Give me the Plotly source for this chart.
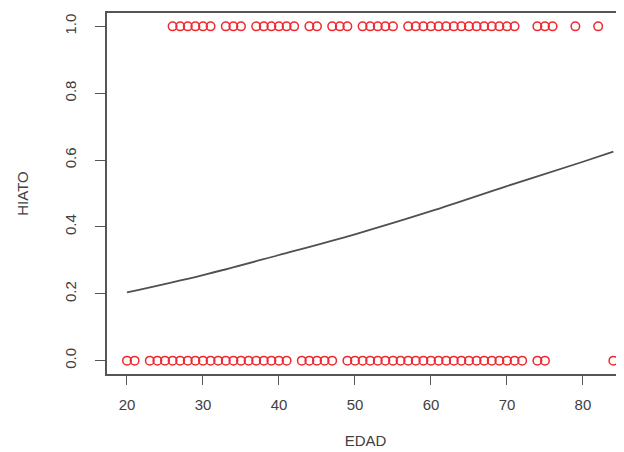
import plotly.graph_objects as go

# Ages of observations with HIATO = 1 and HIATO = 0
edad_hiato1 = [26, 27, 28, 29, 30, 31, 33, 34, 35, 37, 38, 39, 40, 41, 42, 44, 45,
               47, 48, 49, 51, 52, 53, 54, 55, 57, 58, 59, 60, 61, 62, 63, 64, 65,
               66, 67, 68, 69, 70, 71, 74, 75, 76, 79, 82]
edad_hiato0 = [20, 21, 23, 24, 25, 26, 27, 28, 29, 30, 31, 32, 33, 34, 35, 36, 37,
               38, 39, 40, 41, 43, 44, 45, 46, 47, 49, 50, 51, 52, 53, 54, 55, 56,
               57, 58, 59, 60, 61, 62, 63, 64, 65, 66, 67, 68, 69, 70, 71, 72, 74,
               75, 84]

# Fitted probability curve
curve_edad = [20, 30, 40, 50, 60, 70, 80, 84]
curve_prob = [0.204, 0.256, 0.316, 0.378, 0.447, 0.522, 0.595, 0.625]

x_ticks = [20, 30, 40, 50, 60, 70, 80]
y_ticks = [0.0, 0.2, 0.4, 0.6, 0.8, 1.0]

fig = go.Figure()
marker = dict(symbol="circle-open", size=8.5, color="#f0282d", line=dict(width=1.5))
fig.add_trace(go.Scatter(x=edad_hiato1, y=[1] * len(edad_hiato1), mode="markers",
                         marker=marker, showlegend=False, cliponaxis=False))
fig.add_trace(go.Scatter(x=edad_hiato0, y=[0] * len(edad_hiato0), mode="markers",
                         marker=marker, showlegend=False, cliponaxis=False))
fig.add_trace(go.Scatter(x=curve_edad, y=curve_prob, mode="lines",
                         line=dict(color="#505050", width=1.8, shape="spline"),
                         showlegend=False))

font = dict(family="Liberation Sans, Arial, sans-serif", size=15, color="#404040")
# The page body has an 8px margin, so the figure is 616x444 and offset by 8px.
fig.update_layout(
    width=616, height=444,
    margin=dict(l=99, r=0, t=5, b=78, autoexpand=False),
    paper_bgcolor="white", plot_bgcolor="white",
    font=font,
    xaxis=dict(range=[17.37, 85.4], tickvals=x_ticks, ticktext=[str(v) for v in x_ticks],
               showgrid=False, zeroline=False, showline=True, mirror=True,
               linecolor="#555555", linewidth=1.5, ticks="outside", ticklen=9,
               tickcolor="#555555", tickwidth=1.3, automargin=False,
               ticklabelstandoff=7,
               title=dict(text="EDAD", standoff=24, font=font)),
    yaxis=dict(range=[-0.04, 1.04], tickvals=y_ticks,
               ticktext=["0.0", "0.2", "0.4", "0.6", "0.8", "1.0"], tickangle=-90,
               showgrid=False, zeroline=False, showline=True, mirror=False,
               linecolor="#555555", linewidth=1.5, ticks="outside", ticklen=10,
               tickcolor="#555555", tickwidth=1.3, automargin=False,
               ticklabelstandoff=13,
               title=dict(text="HIATO", standoff=30, font=font)),
)
fig.write_html("out.html")
